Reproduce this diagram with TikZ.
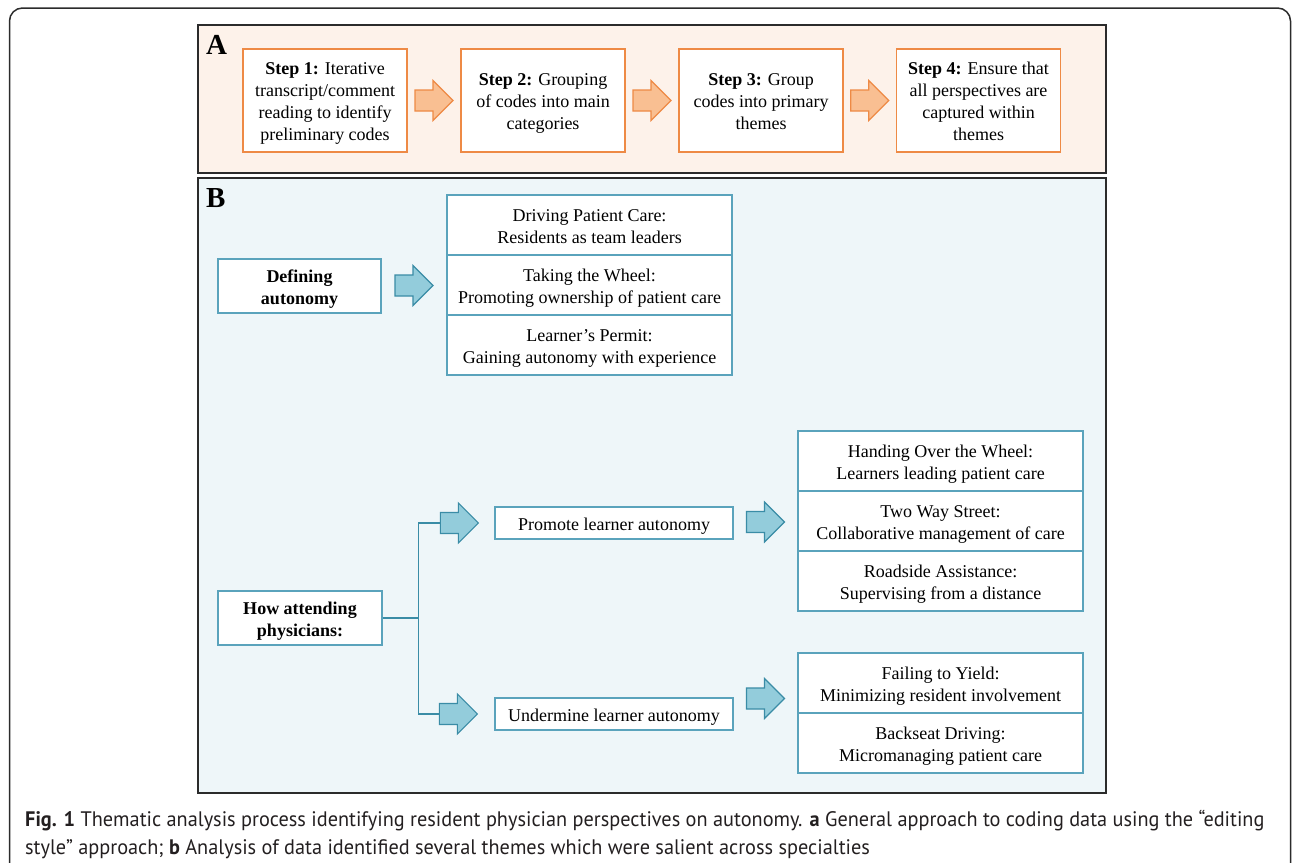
\documentclass[tikz,border=0pt]{standalone}
\usepackage{fontspec}
\setmainfont{Liberation Serif}
\newfontfamily\capfont[FakeStretch=0.966]{PT Sans}
\usetikzlibrary{calc}
\definecolor{orangeline}{HTML}{EE8A45}
\definecolor{orangefill}{HTML}{F9BF92}
\definecolor{peach}{HTML}{FDF2EA}
\definecolor{paleblue}{HTML}{EEF6F9}
\definecolor{tealline}{HTML}{5AA3BC}
\definecolor{tealdark}{HTML}{3A8CA6}
\definecolor{tealfill}{HTML}{93CCDB}
\definecolor{framegray}{HTML}{2B2B2B}
\definecolor{captext}{HTML}{231F20}
\newcommand\blockarrow[2]{%
  \draw[#1] ($(#2)+(-19,-10.5)$) -- ++(18,0) -- ++(0,-9.5) -- ++(20,20) -- ++(-20,20) -- ++(0,-9.5) -- ++(-18,0) -- cycle;}
\newcommand\bt[1]{\raisebox{-3pt}[\height][\depth]{\begin{tabular}{@{}c@{}}#1\end{tabular}}}
\begin{document}
\begin{tikzpicture}[x=1pt,y=-1pt,
  boxfont/.style={font=\fontsize{18}{22}\selectfont},
  stepbox/.style={draw=orangeline, fill=white, line width=1.3pt, minimum width=164pt, minimum height=103pt, inner sep=0pt, boxfont},
  tealbox/.style={draw=tealline, fill=white, line width=1.3pt, inner sep=0pt, boxfont},
  rowbox/.style={tealbox, minimum width=285pt, minimum height=60pt},
  panel/.style={draw=framegray, line width=1.1pt},
  oarrow/.style={draw=orangeline, fill=orangefill, line width=1.1pt, line join=miter},
  barrow/.style={draw=tealdark, fill=tealfill, line width=1.1pt, line join=miter},
  conn/.style={draw=tealdark, line width=1.3pt},
  panellabel/.style={font=\fontsize{29}{29}\selectfont\bfseries, inner sep=0pt, anchor=north west},
  captionline/.style={font=\capfont\fontsize{21}{28}\selectfont, text=captext, inner sep=0pt, anchor=base west}
]
\useasboundingbox (0,0) rectangle (1292,862);
\begin{scope}
\clip (0,0) rectangle (1292,862);
\draw[framegray, line width=1.5pt, rounded corners=13pt] (9.5,8) rectangle (1290.5,920);
\end{scope}

% Panel A
\draw[panel, fill=peach] (198,25) rectangle (1106,173);
\node[panellabel] (la) at (206,35) {A};
\node[stepbox] (s1) at (325,100.5) {\bt{\textbf{Step 1:} Iterative\\transcript/comment\\reading to identify\\preliminary codes}};
\node[stepbox] (s2) at (543,100.5) {\bt{\textbf{Step 2:} Grouping\\of codes into main\\categories}};
\node[stepbox] (s3) at (761,100.5) {\bt{\textbf{Step 3:} Group\\codes into primary\\themes}};
\node[stepbox] (s4) at (978.5,100.5) {\bt{\textbf{Step 4:} Ensure that\\all perspectives are\\captured within\\themes}};
\coordinate (a1) at ($(s1.east)!0.5!(s2.west)$);
\coordinate (a2) at ($(s2.east)!0.5!(s3.west)$);
\coordinate (a3) at ($(s3.east)!0.5!(s4.west)$);
\blockarrow{oarrow}{a1}
\blockarrow{oarrow}{a2}
\blockarrow{oarrow}{a3}

% Panel B
\draw[panel, fill=paleblue] (198,178) rectangle (1106,793);
\node[panellabel] (lb) at (206,188) {B};

\node[tealbox, minimum width=163pt, minimum height=54pt] (def) at (299.5,286) {\bt{\textbf{Defining}\\\textbf{autonomy}}};
\node[rowbox] (d1) at (589.5,225) {\bt{Driving Patient Care:\\Residents as team leaders}};
\node[rowbox] (d2) at (589.5,285) {\bt{Taking the Wheel:\\Promoting ownership of patient care}};
\node[rowbox] (d3) at (589.5,345) {\bt{Learner’s Permit:\\Gaining autonomy with experience}};
\coordinate (ad) at ($(def.east)!0.5!(d2.west)$);
\blockarrow{barrow}{ad}

\node[tealbox, minimum width=164pt, minimum height=54pt] (how) at (300,618) {\bt{\textbf{How attending}\\\textbf{physicians:}}};
\node[tealbox, minimum width=238pt, minimum height=32pt] (pro) at (614,523) {\bt{Promote learner autonomy}};
\node[tealbox, minimum width=238pt, minimum height=32pt] (und) at (614,714) {\bt{Undermine learner autonomy}};
\coordinate (aup) at ($(pro.west)+(-35,0)$);
\coordinate (adn) at ($(und.west)+(-36,0)$);
\coordinate (jn) at ($(how.east)+(36,0)$);
\coordinate (upt) at ($(aup)+(-19,0)$);
\coordinate (dnt) at ($(adn)+(-19,0)$);
\draw[conn] (how.east) -- (jn);
\draw[conn] (upt) -| (jn) |- (dnt);
\blockarrow{barrow}{aup}
\blockarrow{barrow}{adn}

\node[rowbox] (p1) at (940.5,461) {\bt{Handing Over the Wheel:\\Learners leading patient care}};
\node[rowbox] (p2) at (940.5,521) {\bt{Two Way Street:\\Collaborative management of care}};
\node[rowbox] (p3) at (940.5,581) {\bt{Roadside Assistance:\\Supervising from a distance}};
\node[rowbox] (u1) at (940.5,683) {\bt{Failing to Yield:\\Minimizing resident involvement}};
\node[rowbox] (u2) at (940.5,743) {\bt{Backseat Driving:\\Micromanaging patient care}};
\coordinate (ap) at ($(pro.east)!0.5!(p2.west)$);
\coordinate (au) at ($(und.east)!0.5!(u1.west)$);
\blockarrow{barrow}{ap}
\blockarrow{barrow}{au}

% Caption
\node[captionline] (c1) at (25,826) {\textbf{Fig. 1} Thematic analysis process identifying resident physician perspectives on autonomy. \textbf{a} General approach to coding data using the “editing};
\node[captionline] (c2) at (25,854) {style” approach; \textbf{b} Analysis of data identified several themes which were salient across specialties};
\end{tikzpicture}
\end{document}
